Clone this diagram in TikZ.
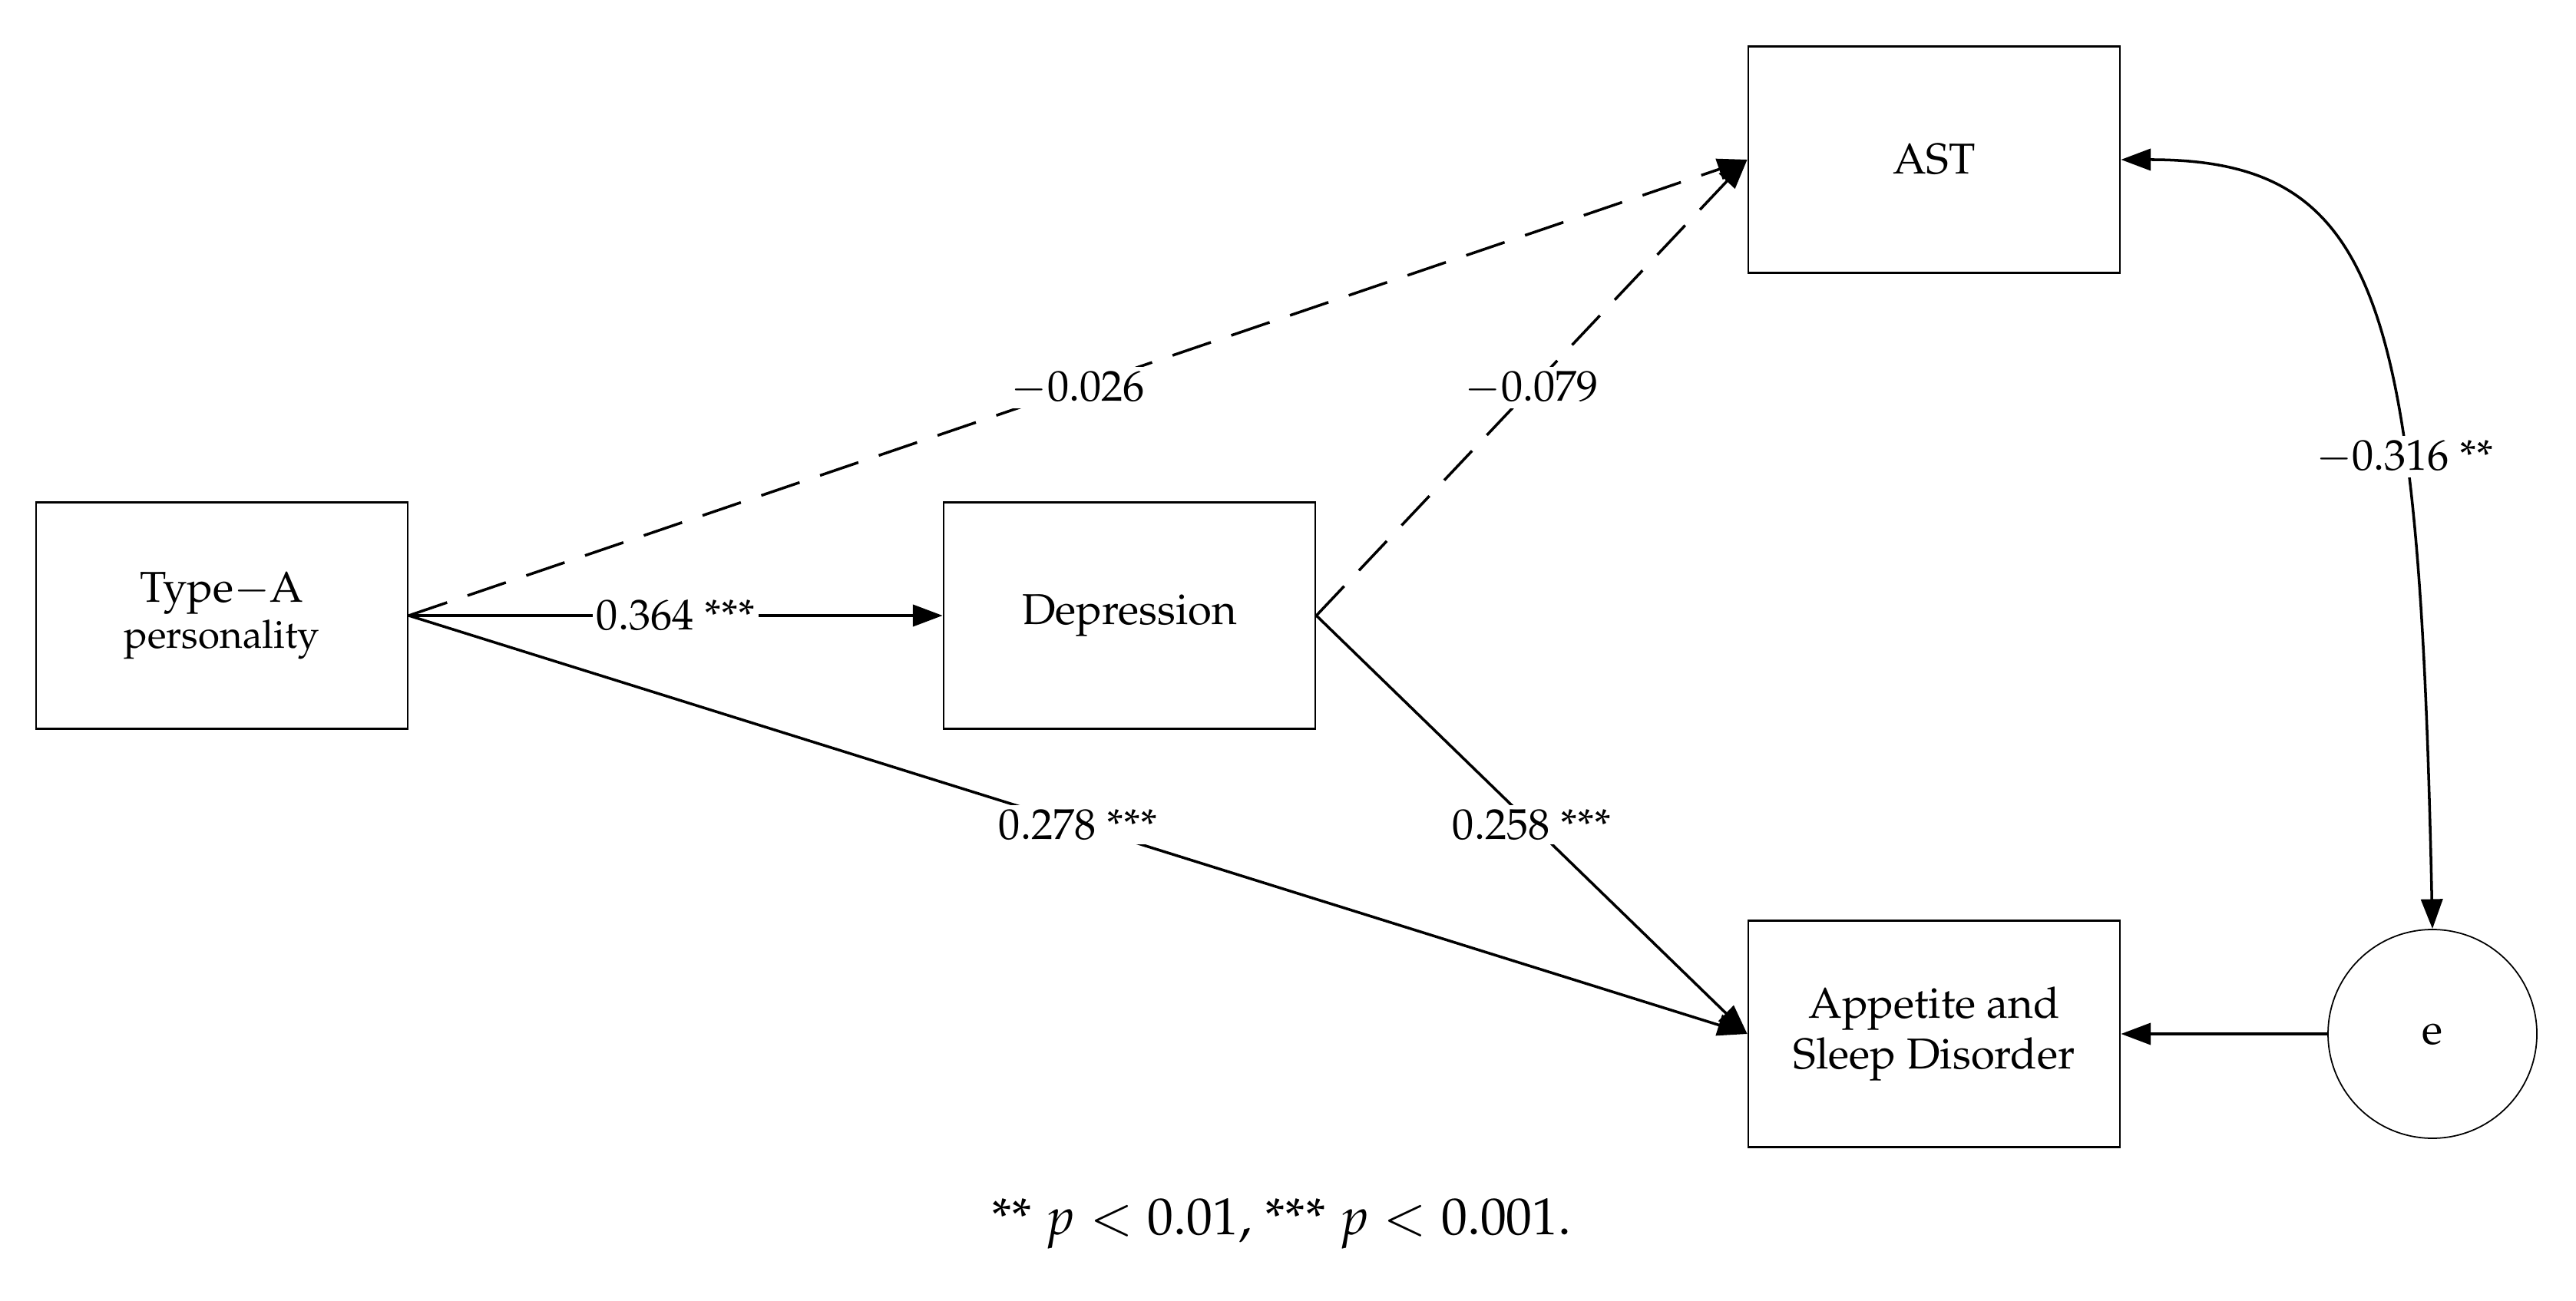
\documentclass[tikz,border=0pt]{standalone}
\usepackage[T1]{fontenc}
\usepackage{mathpazo}
\usetikzlibrary{arrows.meta}

\tikzset{
  var/.style={draw, line width=0.8pt, minimum width=4.84cm, minimum height=2.95cm,
    align=center, font=\fontsize{16}{19}\selectfont},
  err/.style={circle, draw, line width=0.5pt, minimum size=2.72cm, font=\fontsize{16}{19}\selectfont},
  path/.style={-{Triangle[length=11pt,width=8pt]}, line width=1pt},
  ns/.style={path, dash pattern=on 15pt off 8pt},
  cov/.style={{Triangle[length=11pt,width=8pt]}-{Triangle[length=11pt,width=8pt]}, line width=1pt},
  coef/.style={fill=white, inner sep=1.5pt, font=\fontsize{16}{19}\selectfont}
}

\begin{document}
\begin{tikzpicture}
\useasboundingbox (0,0) rectangle (33.55,16.94);
% observed variables
\node[var] (typea) at (2.89,8.92) {Type$-$A\\[-2pt]{\fontsize{14.5}{17}\selectfont personality}};
\node[var] (depr) at (14.71,8.92) {Depression};
\node[var] (ast) at (25.19,14.86) {AST};
\node[var] (asd) at (25.19,3.47) {Appetite and\\Sleep Disorder};
% residual
\node[err] (e) at (31.68,3.47) {e};
% paths
\draw[path] (typea.east) -- (depr.west) node[coef, pos=0.5] {0.364 ***};
\draw[ns] (typea.east) -- (ast.west) node[coef, pos=0.5] {$-$0.026};
\draw[ns] (depr.east) -- (ast.west) node[coef, pos=0.5] {$-$0.079};
\draw[path] (typea.east) -- (asd.west) node[coef, pos=0.5] {0.278 ***};
\draw[path] (depr.east) -- (asd.west) node[coef, pos=0.5] {0.258 ***};
\draw[path] (e.west) -- (asd.east);
% covariance
\draw[cov] (ast.east) .. controls +(3.4,0) and +(-0.17,8.15) .. (e.north)
  node[coef, pos=0.672] {$-$0.316 **};
% note
\node (note) at (16.69,1.0) {\fontsize{19.3}{23}\selectfont ** $p<0.01$, *** $p<0.001$.};
\end{tikzpicture}
\end{document}
